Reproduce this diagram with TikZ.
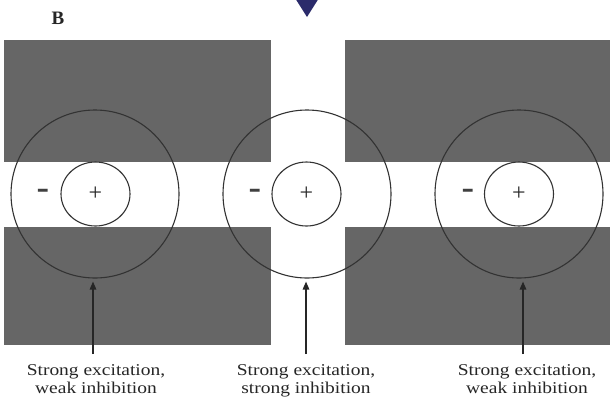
\documentclass[tikz,border=0pt]{standalone}
\usepackage{graphicx}
\usepackage{fontspec}
\setmainfont{Liberation Serif}
\newfontfamily\capfont[FakeStretch=1.18]{Liberation Serif}
\usetikzlibrary{arrows.meta,shapes.geometric}
\definecolor{blockgray}{HTML}{666666}
\definecolor{ringgray}{HTML}{333333}
\definecolor{navy}{HTML}{2B2B6B}
\tikzset{
  block/.style={fill=blockgray, draw=none},
  ring/.style={circle, draw=ringgray, line width=1.1pt, minimum size=168pt, inner sep=0pt},
  centre/.style={ellipse, draw=ringgray, line width=1.1pt, minimum width=69pt, minimum height=64pt, inner sep=0pt},
  sign/.style={font=\fontsize{24}{24}\selectfont, inner sep=0pt, text=black!85},
  minus/.style={font=\fontsize{19}{19}\selectfont\bfseries, inner sep=0pt, text=black!75},
  pointer/.style={draw=black!85, line width=1.4pt, -{Triangle[length=8pt,width=6.5pt]}, shorten >=3pt},
  caption/.style={font=\capfont\fontsize{16.5}{18.5}\selectfont, align=center, text=black!85, inner sep=0pt, anchor=north}
}
\begin{document}
\begin{tikzpicture}[x=1pt,y=-1pt]
\useasboundingbox[fill=white] (0,0) rectangle (613,400);
% gray blocks
\fill[block] (4,40) rectangle (271,162);
\fill[block] (345,40) rectangle (610,162);
\fill[block] (4,227) rectangle (271,345);
\fill[block] (345,227) rectangle (610,345);
% top triangle
\fill[navy] (295,-2) -- (319,-2) -- (307,17) -- cycle;
% label
\node[font=\fontsize{19}{19}\selectfont\bfseries, text=black!85] (lab) at (58,18) {B};
% receptive fields
\node[ring] (ringL) at (95,194) {};
\node[ring] (ringC) at (307,194) {};
\node[ring] (ringR) at (519,194) {};
\node[centre] (cenL) at (95.5,194) {};
\node[centre] (cenC) at (306.5,194) {};
\node[centre] (cenR) at (519,194) {};
\node[sign] (pL) at (cenL) {+};
\node[sign] (pC) at (cenC) {+};
\node[sign] (pR) at (cenR) {+};
\node[minus] (mL) at (43,195) {\scalebox{1}[2.2]{–}};
\node[minus] (mC) at (255,195) {\scalebox{1}[2.2]{–}};
\node[minus] (mR) at (468,195) {\scalebox{1}[2.2]{–}};
% captions
\node[caption] (tL) at (96,364) {Strong excitation,\\weak inhibition};
\node[caption] (tC) at (306,364) {Strong excitation,\\strong inhibition};
\node[caption] (tR) at (527,364) {Strong excitation,\\weak inhibition};
% pointers
\coordinate (aL) at (93,354);
\coordinate (aC) at (306,354);
\coordinate (aR) at (523,354);
\draw[pointer] (aL) -- (aL |- ringL.south);
\draw[pointer] (aC) -- (aC |- ringC.south);
\draw[pointer] (aR) -- (aR |- ringR.south);
\end{tikzpicture}
\end{document}
